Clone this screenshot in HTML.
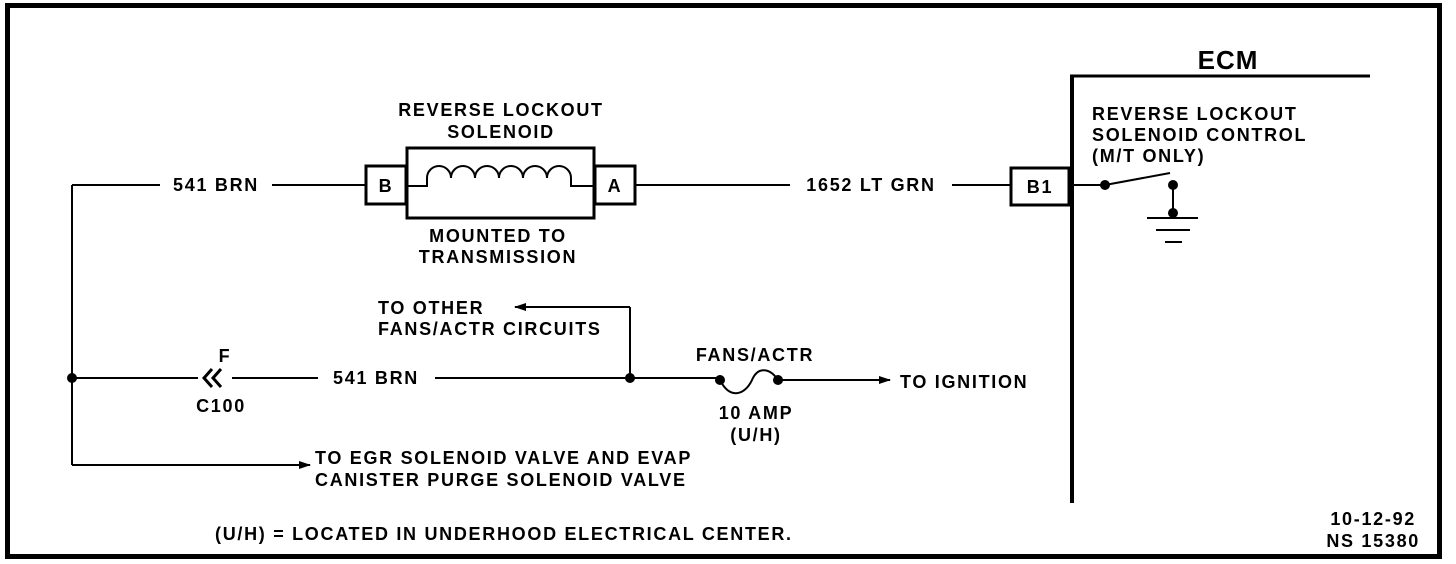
<!DOCTYPE html>
<html><head><meta charset="utf-8"><style>
html,body{margin:0;padding:0;background:#fff;}
svg{display:block;}
text{font-family:"Liberation Sans",sans-serif;font-weight:bold;font-size:18px;letter-spacing:1.7px;fill:#000;}
</style></head><body>
<svg width="1456" height="564" viewBox="0 0 1456 564" xmlns="http://www.w3.org/2000/svg">
<defs><marker id="ar" markerWidth="12" markerHeight="8" refX="11" refY="4" orient="auto" markerUnits="userSpaceOnUse"><path d="M0,0 L12,4 L0,8 Z" fill="#000"/></marker></defs>
<rect x="7.5" y="5.5" width="1432" height="551" fill="none" stroke="#000" stroke-width="5"/>
<g stroke="#000" stroke-width="2" fill="none">
<line x1="72" y1="185" x2="72" y2="465"/>
<line x1="72" y1="185" x2="160" y2="185"/>
<line x1="272" y1="185" x2="365" y2="185"/>
<rect x="366" y="166" width="40" height="38" stroke-width="3"/>
<rect x="407" y="148" width="187" height="70" stroke-width="3"/>
<rect x="595" y="166" width="40" height="38" stroke-width="3"/>
<path d="M407,186 L427,186 L427,178 A12,12 0 0 1 451,178 A12,12 0 0 1 475,178 A12,12 0 0 1 499,178 A12,12 0 0 1 523,178 A12,12 0 0 1 547,178 A12,12 0 0 1 571,178 L571,186 L594,186"/>
<line x1="636" y1="185" x2="790" y2="185"/>
<line x1="952" y1="185" x2="1010" y2="185"/>
<rect x="1011" y="168" width="58" height="37" stroke-width="3"/>
<line x1="1072" y1="75" x2="1072" y2="503" stroke-width="4"/>
<line x1="1070" y1="76" x2="1370" y2="76" stroke-width="3"/>
<line x1="1072" y1="185" x2="1105" y2="185"/>
<line x1="1105" y1="185" x2="1170" y2="173"/>
<line x1="1173" y1="185" x2="1173" y2="213"/>
<line x1="1147" y1="218" x2="1198" y2="218"/>
<line x1="1156" y1="230" x2="1190" y2="230"/>
<line x1="1165" y1="242" x2="1182" y2="242"/>
<line x1="72" y1="378" x2="198" y2="378"/>
<path d="M212,369 L204,378 L212,387 M221,369 L213,378 L221,387" stroke-width="3"/>
<line x1="232" y1="378" x2="318" y2="378"/>
<line x1="435" y1="378" x2="720" y2="378"/>
<path d="M720,380 C730,400 745,395 752,380 C758,366 770,368 778,380"/>
<line x1="778" y1="380" x2="890" y2="380" marker-end="url(#ar)"/>
<line x1="630" y1="378" x2="630" y2="307"/>
<line x1="630" y1="307" x2="515" y2="307" marker-end="url(#ar)"/>
<line x1="72" y1="465" x2="310" y2="465" marker-end="url(#ar)"/>
</g>
<g fill="#000">
<circle cx="72" cy="378" r="5"/>
<circle cx="630" cy="378" r="5"/>
<circle cx="720" cy="380" r="5"/>
<circle cx="778" cy="380" r="5"/>
<circle cx="1105" cy="185" r="5"/>
<circle cx="1173" cy="185" r="5"/>
<circle cx="1173" cy="213" r="5"/>
</g>
<text x="501" y="116" text-anchor="middle">REVERSE LOCKOUT</text>
<text x="501" y="138" text-anchor="middle">SOLENOID</text>
<text x="216" y="191" text-anchor="middle">541 BRN</text>
<text x="386" y="192" text-anchor="middle">B</text>
<text x="615" y="192" text-anchor="middle">A</text>
<text x="498" y="242" text-anchor="middle">MOUNTED TO</text>
<text x="498" y="263" text-anchor="middle">TRANSMISSION</text>
<text x="871" y="191" text-anchor="middle">1652 LT GRN</text>
<text x="1040" y="193" text-anchor="middle">B1</text>
<text x="1228" y="69" text-anchor="middle" style="font-size:26px;letter-spacing:1px">ECM</text>
<text x="1092" y="120">REVERSE LOCKOUT</text>
<text x="1092" y="141">SOLENOID CONTROL</text>
<text x="1092" y="162">(M/T ONLY)</text>
<text x="378" y="314">TO OTHER</text>
<text x="378" y="335">FANS/ACTR CIRCUITS</text>
<text x="225" y="362" text-anchor="middle">F</text>
<text x="221" y="412" text-anchor="middle">C100</text>
<text x="376" y="384" text-anchor="middle">541 BRN</text>
<text x="755" y="361" text-anchor="middle">FANS/ACTR</text>
<text x="900" y="388">TO IGNITION</text>
<text x="756" y="419" text-anchor="middle">10 AMP</text>
<text x="756" y="441" text-anchor="middle">(U/H)</text>
<text x="315" y="464">TO EGR SOLENOID VALVE AND EVAP</text>
<text x="315" y="486">CANISTER PURGE SOLENOID VALVE</text>
<text x="215" y="540">(U/H)  =  LOCATED IN UNDERHOOD ELECTRICAL CENTER.</text>
<text x="1416" y="525" text-anchor="end">10-12-92</text>
<text x="1420" y="547" text-anchor="end">NS 15380</text>
</svg>
</body></html>
